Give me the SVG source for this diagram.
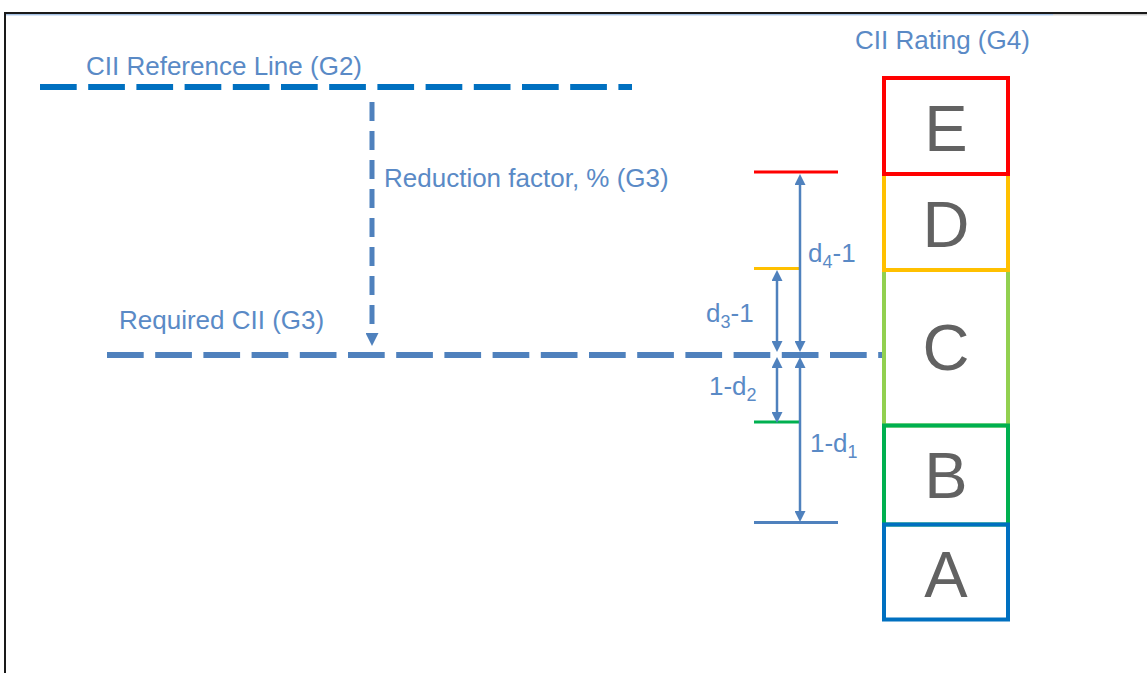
<svg xmlns="http://www.w3.org/2000/svg" width="1147" height="673" viewBox="0 0 1147 673">
  <style>
    .lbl { font-family: "Liberation Sans", Arial, sans-serif; font-size: 26px; fill: #5A8AC6; }
    .sub { font-size: 18px; }
    .grade { font-family: "Liberation Sans", Arial, sans-serif; font-size: 65px; fill: #626262; text-anchor: middle; }
    .box { fill: none; stroke-width: 4; }
    .dim { stroke: #4F81BD; stroke-width: 2.5; fill: none; }
    .tick { stroke-width: 3; }
  </style>
  <defs>
    <marker id="arr" viewBox="0 0 11 11" refX="5" refY="5.5" markerWidth="11" markerHeight="11" markerUnits="userSpaceOnUse" orient="auto-start-reverse">
      <path d="M0,0 L11,5.5 L0,11 z" fill="#4F81BD"/>
    </marker>
    <marker id="arrBig" viewBox="0 0 13 13" refX="1" refY="6.5" markerWidth="13" markerHeight="13" markerUnits="userSpaceOnUse" orient="auto">
      <path d="M0,0 L13,6.5 L0,13 z" fill="#4F81BD"/>
    </marker>
  </defs>

  <!-- frame -->
  <g id="frame">
    <line x1="5" y1="13" x2="1147" y2="13" stroke="#1a1a1a" stroke-width="2"/>
    <line x1="6" y1="14.8" x2="1053" y2="14.8" stroke="#7FA7D9" stroke-width="1"/>
    <line x1="1053" y1="14.8" x2="1147" y2="14.8" stroke="#b0b0b0" stroke-width="1"/>
    <line x1="5" y1="12" x2="5" y2="673" stroke="#1a1a1a" stroke-width="2"/>
  </g>

  <!-- reference line -->
  <g id="reference-line">
    <line x1="40" y1="87" x2="632" y2="87" stroke="#0070C0" stroke-width="6" stroke-dasharray="36.7 11.5"/>
    <text class="lbl" x="86" y="75">CII Reference Line (G2)</text>
  </g>

  <!-- required line -->
  <g id="required-line">
    <line x1="107" y1="355" x2="883" y2="355" stroke="#4F81BD" stroke-width="6" stroke-dasharray="36.7 11.5"/>
    <text class="lbl" x="119" y="329">Required CII (G3)</text>
  </g>

  <!-- reduction arrow -->
  <g id="reduction">
    <line x1="372" y1="102" x2="372" y2="334" stroke="#4F81BD" stroke-width="5" stroke-dasharray="19 10" marker-end="url(#arrBig)"/>
    <text class="lbl" x="384" y="187">Reduction factor, % (G3)</text>
  </g>

  <!-- rating boxes -->
  <g id="rating-title">
    <text class="lbl" x="855" y="49">CII Rating (G4)</text>
  </g>
  <g id="box-C">
    <rect class="box" x="884" y="270" width="124" height="155.5" stroke="#92D050"/>
    <text class="grade" x="946" y="370">C</text>
  </g>
  <g id="box-D">
    <rect class="box" x="884" y="174" width="124" height="96" stroke="#FFC000"/>
    <text class="grade" x="946" y="247">D</text>
  </g>
  <g id="box-E">
    <rect class="box" x="884" y="78" width="124" height="96" stroke="#FF0000"/>
    <text class="grade" x="946" y="151">E</text>
  </g>
  <g id="box-B">
    <rect class="box" x="884" y="425.5" width="124" height="99" stroke="#00B050"/>
    <text class="grade" x="946" y="498">B</text>
  </g>
  <g id="box-A">
    <rect class="box" x="884" y="524.5" width="124" height="95" stroke="#0070C0"/>
    <text class="grade" x="946" y="597">A</text>
  </g>

  <!-- threshold ticks -->
  <g id="thresholds">
    <line class="tick" x1="754" y1="172" x2="838" y2="172" stroke="#FF0000"/>
    <line class="tick" x1="754" y1="268.5" x2="801" y2="268.5" stroke="#FFC000"/>
    <line class="tick" x1="754" y1="422" x2="800" y2="422" stroke="#00B050"/>
    <line class="tick" x1="754" y1="522.5" x2="838" y2="522.5" stroke="#4F81BD"/>
  </g>

  <!-- dimension connectors -->
  <g id="connectors">
    <line class="dim" x1="800" y1="180" x2="800" y2="346" marker-start="url(#arr)" marker-end="url(#arr)"/>
    <line class="dim" x1="800" y1="363" x2="800" y2="516" marker-start="url(#arr)" marker-end="url(#arr)"/>
    <line class="dim" x1="777" y1="276" x2="777" y2="346" marker-start="url(#arr)" marker-end="url(#arr)"/>
    <line class="dim" x1="777" y1="363" x2="777" y2="417" marker-start="url(#arr)" marker-end="url(#arr)"/>
  </g>

  <!-- dimension labels -->
  <g id="dim-labels">
    <text class="lbl" x="808" y="262">d<tspan class="sub" dy="6">4</tspan><tspan dy="-6">-1</tspan></text>
    <text class="lbl" x="706" y="322">d<tspan class="sub" dy="6">3</tspan><tspan dy="-6">-1</tspan></text>
    <text class="lbl" x="709" y="395">1-d<tspan class="sub" dy="6">2</tspan></text>
    <text class="lbl" x="810" y="452">1-d<tspan class="sub" dy="6">1</tspan></text>
  </g>
</svg>
